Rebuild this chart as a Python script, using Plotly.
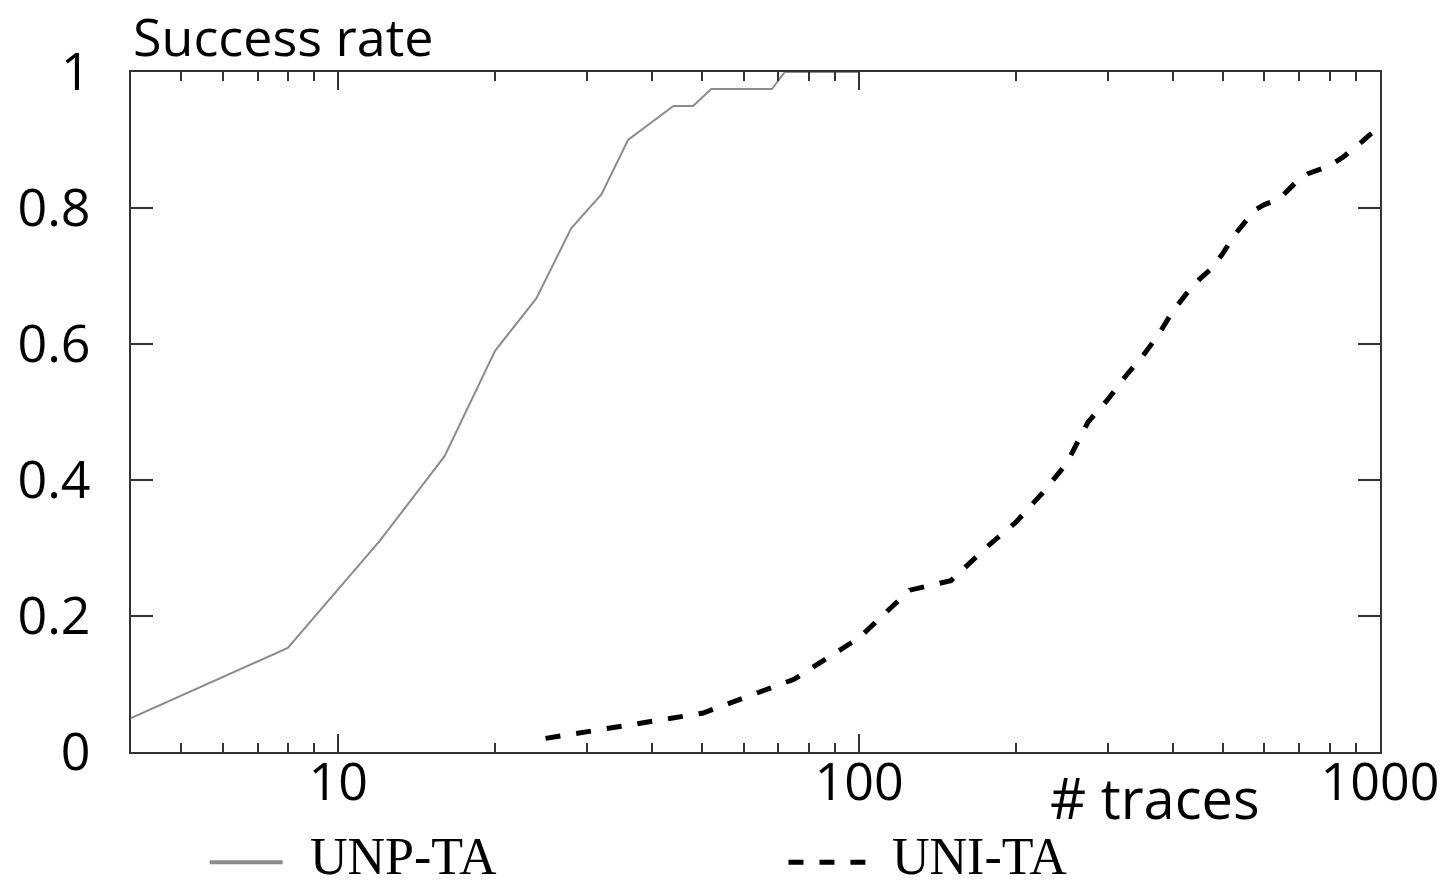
import plotly.graph_objects as go

# Success rate vs. number of traces (log x)
unp_traces = [4, 8, 12, 16, 20, 24, 28, 32, 36, 44, 48, 52, 68, 72, 100]
unp_rate = [0.05, 0.153, 0.31, 0.435, 0.59, 0.667, 0.77, 0.82, 0.90, 0.95,
            0.95, 0.975, 0.975, 1.0, 1.0]

uni_traces = [25, 50, 75, 100, 125, 150, 175, 200, 225, 250, 275, 300, 325,
              350, 375, 400, 425, 450, 475, 500, 525, 550, 575, 600, 625, 650,
              675, 700, 725, 750, 775, 800, 825, 850, 875, 900, 925, 950, 975,
              1000]
uni_rate = [0.02, 0.057, 0.107, 0.168, 0.238, 0.252, 0.30, 0.338, 0.381,
            0.424, 0.485, 0.518, 0.553, 0.582, 0.613, 0.648, 0.674, 0.695,
            0.711, 0.734, 0.76, 0.78, 0.797, 0.805, 0.81, 0.818, 0.83, 0.843,
            0.85, 0.855, 0.858, 0.862, 0.868, 0.875, 0.883, 0.89, 0.898,
            0.906, 0.913, 0.92]

x_major = [10, 100, 1000]
x_minor = [4, 5, 6, 7, 8, 9, 20, 30, 40, 50, 60, 70, 80, 90,
           200, 300, 400, 500, 600, 700, 800, 900]
y_ticks = [0, 0.2, 0.4, 0.6, 0.8, 1]
y_labels = ["0", "0.2", "0.4", "0.6", "0.8", "1"]

series_names = ["UNP-TA", "UNI-TA"]
gray = "#8c8c8c"
frame = "#333333"
sans = "Open Sans"
serif = "Liberation Serif"

fig = go.Figure()
fig.add_trace(go.Scatter(x=unp_traces, y=unp_rate, mode="lines",
                         name=series_names[0],
                         line=dict(color=gray, width=2)))
fig.add_trace(go.Scatter(x=uni_traces, y=uni_rate, mode="lines",
                         name=series_names[1],
                         line=dict(color="black", width=5, dash="15px,16px")))

fig.update_xaxes(type="log", range=[0.60206, 3], showgrid=False, zeroline=False,
                 showline=True, linecolor=frame, linewidth=2, mirror="allticks",
                 tickmode="array", tickvals=x_major,
                 ticktext=[str(v) for v in x_major],
                 ticks="inside", ticklen=18, tickwidth=2, tickcolor=frame,
                 tickfont=dict(family=sans, size=52, color="black"),
                 ticklabelstandoff=-16,
                 minor=dict(tickmode="array", tickvals=x_minor, ticks="inside",
                            ticklen=9, tickwidth=2, tickcolor=frame,
                            showgrid=False))
fig.update_yaxes(range=[0, 1], showgrid=False, zeroline=False,
                 showline=True, linecolor=frame, linewidth=2, mirror="allticks",
                 tickmode="array", tickvals=y_ticks, ticktext=y_labels,
                 ticks="inside", ticklen=22, tickwidth=2, tickcolor=frame,
                 tickfont=dict(family=sans, size=52, color="black"),
                 ticklabelstandoff=28)

# axis captions
fig.add_annotation(text="Success rate", xref="paper", yref="paper",
                   x=0, y=1 + 36 / 680, xanchor="left", yanchor="middle",
                   showarrow=False, font=dict(family=sans, size=52, color="black"))
fig.add_annotation(text="# traces", xref="paper", yref="paper",
                   x=0.8195, y=-0.066, xanchor="center", yanchor="middle",
                   showarrow=False, font=dict(family=sans, size=56, color="black"))

# legend below the plot
legend_y = -0.162
text_y = -0.153
fig.add_shape(type="line", xref="paper", yref="paper",
              x0=0.063, x1=0.1214, y0=legend_y, y1=legend_y,
              line=dict(color=gray, width=4))
fig.add_shape(type="line", xref="paper", yref="paper",
              x0=0.5264, x1=0.588, y0=legend_y, y1=legend_y,
              line=dict(color="black", width=5, dash="15px,16px"))
fig.add_annotation(text=series_names[0], xref="paper", yref="paper",
                   x=0.1414, y=text_y, xanchor="left", yanchor="middle",
                   showarrow=False, font=dict(family=serif, size=52, color="black"))
fig.add_annotation(text=series_names[1], xref="paper", yref="paper",
                   x=0.6078, y=text_y, xanchor="left", yanchor="middle",
                   showarrow=False, font=dict(family=serif, size=52, color="black"))

fig.update_layout(width=1451, height=885, showlegend=False,
                  paper_bgcolor="white", plot_bgcolor="white",
                  margin=dict(l=131, r=68, t=72, b=133))

fig.write_html("out.html")
